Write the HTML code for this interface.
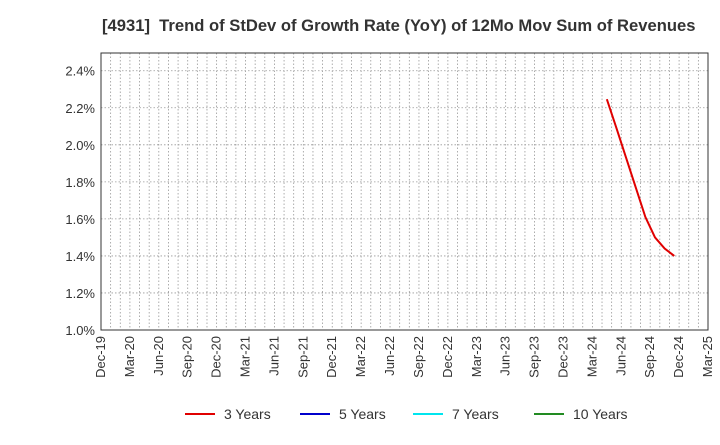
<!DOCTYPE html>
<html><head><meta charset="utf-8"><style>
body{margin:0;background:#fff;font-family:"Liberation Sans",Arial,sans-serif}
</style></head><body>
<svg id="c" width="720" height="440" xmlns="http://www.w3.org/2000/svg">
<text x="102" y="31" font-size="16.6" font-weight="bold" fill="#333" style="white-space:pre">[4931]  Trend of StDev of Growth Rate (YoY) of 12Mo Mov Sum of Revenues</text>
<g id="grid"></g><g id="axes"></g><g id="series"></g><g id="legend"></g>
</svg>
<script>
const xLabels=["Dec-19","Mar-20","Jun-20","Sep-20","Dec-20","Mar-21","Jun-21","Sep-21","Dec-21","Mar-22","Jun-22","Sep-22","Dec-22","Mar-23","Jun-23","Sep-23","Dec-23","Mar-24","Jun-24","Sep-24","Dec-24","Mar-25"];
const yTicks=[1.0,1.2,1.4,1.6,1.8,2.0,2.2,2.4];
const months3=[53,54,55,56,57,58,59,60]; // months since Dec-19 (May-24..Dec-24)
const values3=[2.246,2.09,1.93,1.77,1.61,1.50,1.44,1.40];
const legendNames=["3 Years","5 Years","7 Years","10 Years"];
const legendColors=["#e00000","#0000cc","#00e5ee","#228b22"];
const L=101,R=708,T=53,B=330,ns="http://www.w3.org/2000/svg";
const xm=m=>L+(m-0.5)*(R-L)/63, y=v=>B-(v-1.0)/0.2*37.04;
function mk(t,a,p){const e=document.createElementNS(ns,t);for(const k in a)e.setAttribute(k,a[k]);p.appendChild(e);return e;}
const g=document.getElementById('grid'),ax=document.getElementById('axes'),s=document.getElementById('series'),lg=document.getElementById('legend');
for(let m=1;m<63;m++){const x=L+m*(R-L)/63;const l=mk('line',{x1:x,x2:x,y1:T,y2:B,stroke:'#999','stroke-dasharray':'1.5,2','stroke-width':0.8},g);

}
yTicks.forEach(v=>{const yy=y(v);const l=mk('line',{x1:L,x2:R,y1:yy,y2:yy,stroke:'#999','stroke-dasharray':'1.5,2','stroke-width':0.8},g);


const t=mk('text',{x:L-6,y:yy+5,'text-anchor':'end','font-size':13,fill:'#333'},ax);t.textContent=v.toFixed(1)+'%';

});
xLabels.forEach((lb,i)=>{const x=L+i*(R-L)/21;const t=mk('text',{x:0,y:0,'text-anchor':'end','font-size':13,fill:'#333',transform:`translate(${x+4},${B+6}) rotate(-90)`},ax);t.textContent=lb;

});
const fr=mk('rect',{x:L,y:T,width:R-L,height:B-T,fill:'none',stroke:'#333','stroke-width':1},ax);


const pl=mk('polyline',{points:months3.map((m,i)=>xm(m)+','+y(values3[i])).join(' '),fill:'none',stroke:'#e00000','stroke-width':2},s);


const lx=[185,300,413,534];
legendNames.forEach((n,i)=>{const gg=mk('g',{},lg);


mk('line',{x1:lx[i],x2:lx[i]+30,y1:414,y2:414,stroke:legendColors[i],'stroke-width':2},gg);
const t=mk('text',{x:lx[i]+39,y:419,'font-size':14,fill:'#333'},gg);t.textContent=n;});
</script>
</body></html>
